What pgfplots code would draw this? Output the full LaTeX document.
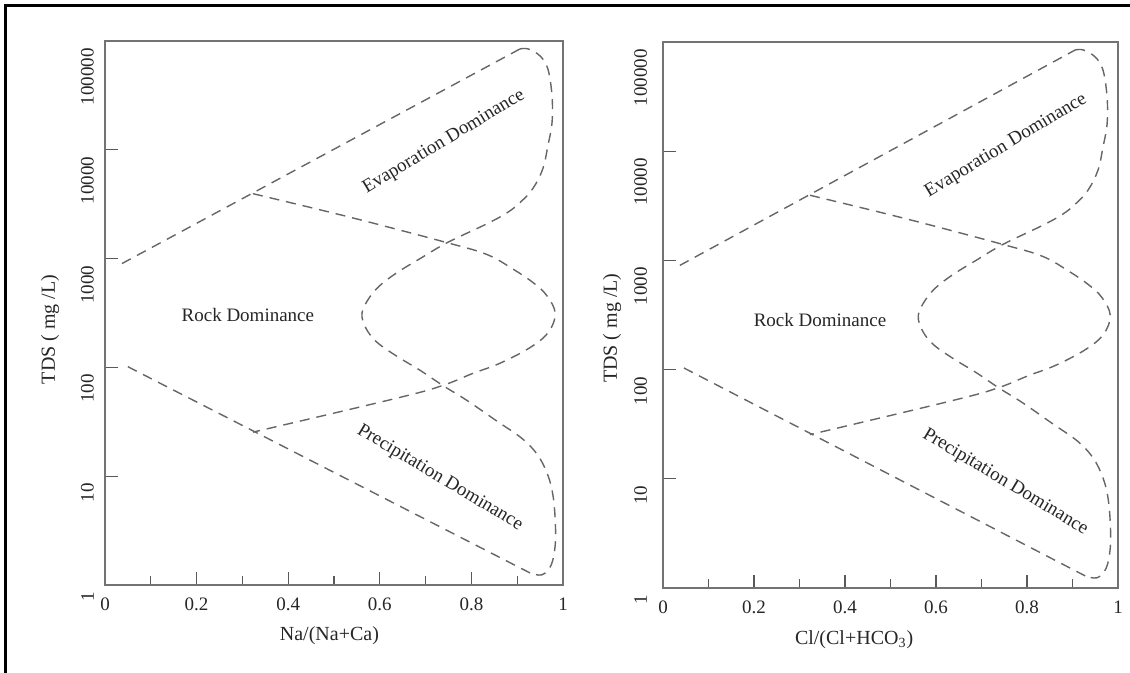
\documentclass[border=0pt]{standalone}
\usepackage{fontspec}
\setmainfont{Liberation Serif}
\usepackage{pgfplots}
\usepackage{pgfplotstable}
\pgfplotsset{compat=1.18}

% outer boundary, straight upper line
\pgfplotstableread{
x y
0.037 900
0.906 84500
}\upperline
% outer boundary, curved right part (S curve)
\pgfplotstableread{
x y
0.906 84500
0.924 84500
0.950 72800
0.967 55300
0.976 31300
0.976 17700
0.967 10900
0.956 6700
0.934 4390
0.906 3270
0.878 2640
0.834 2090
0.747 1400
0.688 1000
0.638 745
0.600 565
0.576 430
0.561 313
0.570 228
0.594 170
0.638 126
0.688 94
0.738 68
0.790 49.8
0.856 32
0.910 22.3
0.945 15.6
0.967 10.2
0.978 6.7
0.983 3.95
0.983 2.33
0.974 1.52
0.954 1.24
0.928 1.29
}\scurve
% outer boundary, straight lower line
\pgfplotstableread{
x y
0.928 1.29
0.045 104
}\lowerline
% rock dominance lens
\pgfplotstableread{
x y
0.323 3950
0.535 2400
0.747 1400
0.834 1090
0.891 800
0.935 600
0.965 455
0.983 313
0.968 210
0.928 152
0.862 109
0.803 88
0.738 68.4
0.644 53
0.323 25.4
}\rocklens

\pgfplotsset{gibbs/.style={
  scale only axis,
  xmin=0, xmax=1, ymin=1, ymax=100000,
  axis line style={black!55, line width=0.6pt},
  tick style={black!65, line width=0.6pt},
  tick align=inside,
  xtick={0,0.2,0.4,0.6,0.8,1},
  xticklabels={0,0.2,0.4,0.6,0.8,1},
  minor xtick={0.1,0.3,0.5,0.7,0.9},
  ytick={1,10,100,1000,10000,100000},
  yticklabels={1,10,100,1000,10000,100000},
  yminorticks=false,
  xtick pos=bottom, ytick pos=left,
  major tick length=6.5pt, minor tick length=4.5pt,
  ticklabel style={font=\fontsize{9.5}{10}\selectfont, text=black!85},
  xticklabel style={yshift=-3pt},
  label style={font=\fontsize{10}{11}\selectfont, text=black!85},
}}
\tikzset{bnd/.style={black!60, line width=0.7pt, dash pattern=on 5pt off 3.5pt}}

\begin{document}
\begin{tikzpicture}
\useasboundingbox (-52.5pt,-44pt) rectangle (512.5pt,292.5pt);
\draw[black, line width=1.5pt] (-49.5pt,-44pt) -- (-49.5pt,289.5pt) -- (512.5pt,289.5pt);

\begin{axis}[ymode=log, width=229pt, height=272pt, gibbs,
  yticklabel style={xshift=-2pt, rotate=90, anchor=south east},
  xlabel={Na/(Na+Ca)},
  xlabel style={at={(axis description cs:0.49,0)}, anchor=center, yshift=-25.5pt},
  ylabel={TDS ( mg /L)},
  ylabel style={at={(axis description cs:-0.12,0.47)}, anchor=center}]
\addplot[bnd, sharp plot] table {\upperline};
\addplot[bnd, smooth, tension=0.6] table {\scurve};
\addplot[bnd, sharp plot] table {\lowerline};
\addplot[bnd, smooth, tension=0.6] table {\rocklens};
\node[rotate=31, font=\fontsize{9.5}{10}\selectfont, text=black!85] at (axis cs:0.74,11800) {Evaporation Dominance};
\node[font=\fontsize{9.5}{10}\selectfont, text=black!85] at (axis cs:0.312,306) {Rock Dominance};
\node[rotate=-31, font=\fontsize{9.5}{10}\selectfont, text=black!85] at (axis cs:0.731,9.6) {Precipitation Dominance};
\end{axis}

\begin{axis}[ymode=log, width=227.5pt, height=273pt, gibbs, at={(279pt,-1.5pt)},
  yticklabel style={xshift=-4.5pt, rotate=90, anchor=south east},
  xlabel={Cl/(Cl+HCO\textsubscript{3})},
  xlabel style={at={(axis description cs:0.42,0)}, anchor=center, yshift=-26pt},
  ylabel={TDS ( mg /L)},
  ylabel style={at={(axis description cs:-0.112,0.476)}, anchor=center}]
\addplot[bnd, sharp plot] table {\upperline};
\addplot[bnd, smooth, tension=0.6] table {\scurve};
\addplot[bnd, sharp plot] table {\lowerline};
\addplot[bnd, smooth, tension=0.6] table {\rocklens};
\node[rotate=31, font=\fontsize{9.5}{10}\selectfont, text=black!85] at (axis cs:0.754,11200) {Evaporation Dominance};
\node[font=\fontsize{9.5}{10}\selectfont, text=black!85] at (axis cs:0.345,282) {Rock Dominance};
\node[rotate=-31, font=\fontsize{9.5}{10}\selectfont, text=black!85] at (axis cs:0.752,9.3) {Precipitation Dominance};
\end{axis}
\end{tikzpicture}
\end{document}
